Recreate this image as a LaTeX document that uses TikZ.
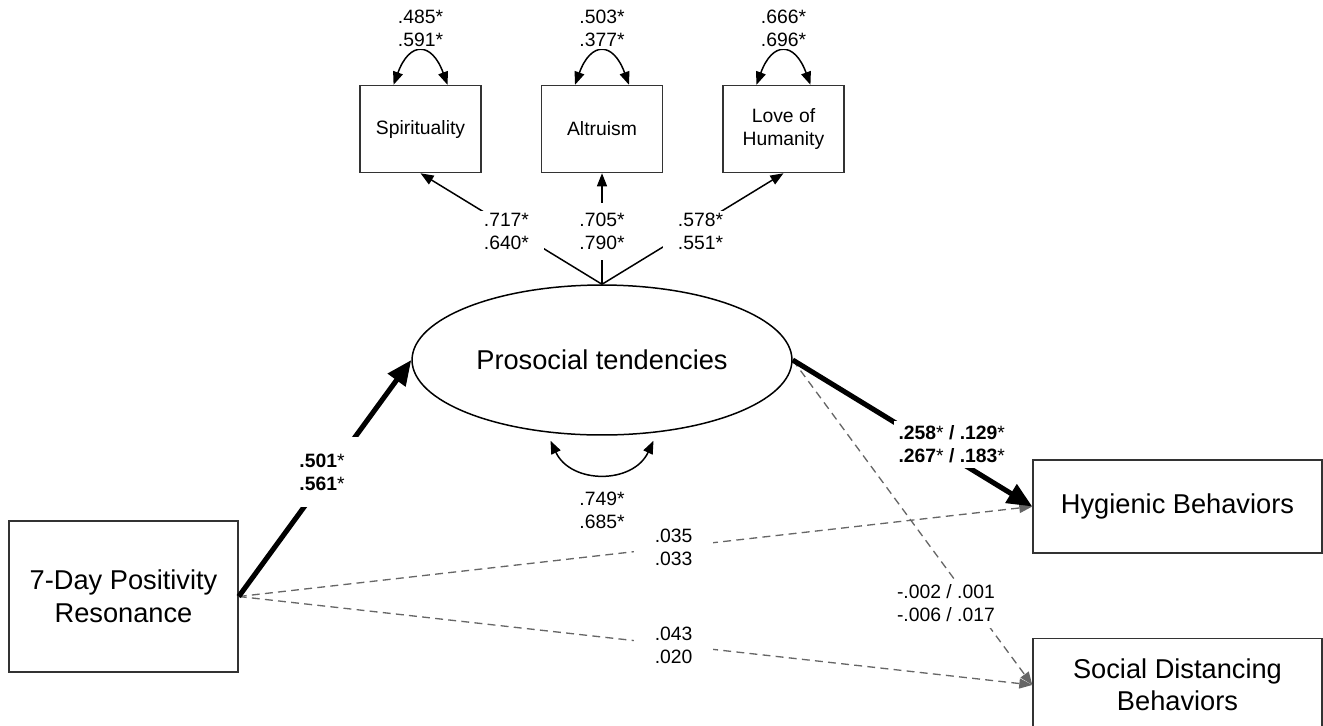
\documentclass[tikz,border=0pt]{standalone}
\usepackage{fontspec}
\setmainfont{Liberation Sans}
\usetikzlibrary{arrows.meta,positioning,shapes.geometric}

\begin{document}
\begin{tikzpicture}[x=0.02cm,y=-0.02cm,>={Triangle[length=0.26cm,width=0.2cm]},node distance=1.18cm,
    box/.style={draw=black!80,line width=0.85pt,rectangle,minimum width=5.78cm,minimum height=1.86cm,align=center,font=\fontsize{15.5}{18.5}\selectfont},
    ind/.style={draw=black!80,line width=0.85pt,rectangle,minimum width=2.42cm,minimum height=1.74cm,align=center,font=\fontsize{11}{13}\selectfont},
    latent/.style={draw=black,line width=0.85pt,ellipse,inner sep=0pt,minimum width=7.6cm,minimum height=3cm,font=\fontsize{15.5}{18.5}\selectfont},
    lbl/.style={fill=white,align=center,inner xsep=0.3cm,inner ysep=0.05cm,font=\fontsize{11}{13}\selectfont},
    load/.style={->,line width=0.85pt},
    cov/.style={<->,line width=0.85pt,looseness=2.2},
    strong/.style={-{Triangle[length=0.5cm,width=0.42cm]},line width=2.9pt},
    weak/.style={->,dash pattern=on 4.5pt off 3pt,draw=black!60,line width=0.75pt}]

    \useasboundingbox (0,0) rectangle (1323,725);

    \node[box,minimum width=4.58cm,minimum height=3.02cm] (pos) at (123.5,596.5) {7-Day Positivity\\Resonance};
    \node[latent] (pt) at (602,360) {Prosocial tendencies};
    \node[ind] (altr) [above=2.22cm of pt] {Altruism};
    \node[ind] (spir) [left=of altr] {Spirituality};
    \node[ind] (love) [right=of altr] {Love of\\Humanity};
    \node[box] (hyg) at (1177.5,506.5) {Hygienic Behaviors};
    \node[box] (soc) [below=1.68cm of hyg] {Social Distancing\\Behaviors};

    % loadings
    \path (pt.north) edge[load] node[lbl,pos=0.477,xshift=-0.18cm] {.717*\\.640*} (spir.south)
                     edge[load] node[lbl,pos=0.477,inner ysep=0.2cm] {.705*\\.790*} (altr.south)
                     edge[load] node[lbl,pos=0.477,xshift=0.24cm] {.578*\\.551*} (love.south);

    % residual arcs
    \path ([xshift=-0.54cm]spir.north) edge[cov,out=70,in=110] node[lbl,above=0.05cm,inner sep=0.05cm] {.485*\\.591*} ([xshift=0.54cm]spir.north)
          ([xshift=-0.54cm]altr.north) edge[cov,out=70,in=110] node[lbl,above=0.05cm,inner sep=0.05cm] {.503*\\.377*} ([xshift=0.54cm]altr.north)
          ([xshift=-0.54cm]love.north) edge[cov,out=70,in=110] node[lbl,above=0.05cm,inner sep=0.05cm] {.666*\\.696*} ([xshift=0.54cm]love.north)
          ([xshift=-1.03cm,yshift=-0.1cm]pt.south) edge[cov,out=-65,in=-115,looseness=1.2] node[lbl,below=0.3cm,inner sep=0.05cm] {.749*\\.685*} ([xshift=1.03cm,yshift=-0.1cm]pt.south);

    % paths
    \path (pos.east) edge[weak] node[lbl,pos=0.548,inner xsep=0.42cm] {.035\\.033} (hyg.west)
                     edge[weak] node[lbl,pos=0.548,inner xsep=0.42cm] {.043\\.020} (soc.west)
                     edge[strong] node[lbl,pos=0.526,xshift=-0.15cm,inner sep=0.34cm] {\textbf{.501}*\\\textbf{.561}*} (pt.west);
    \path (pt.east) edge[weak] node[lbl,pos=0.748,xshift=-0.52cm,inner xsep=0.1cm,inner ysep=0.12cm] {-.002 / .001\\-.006 / .017} (soc.west)
                    edge[strong] node[lbl,pos=0.664,yshift=0.26cm,inner sep=0.1cm] {\textbf{.258}* \textbf{/} \textbf{.129}*\\\textbf{.267}* \textbf{/} \textbf{.183}*} (hyg.west);

\end{tikzpicture}
\end{document}
